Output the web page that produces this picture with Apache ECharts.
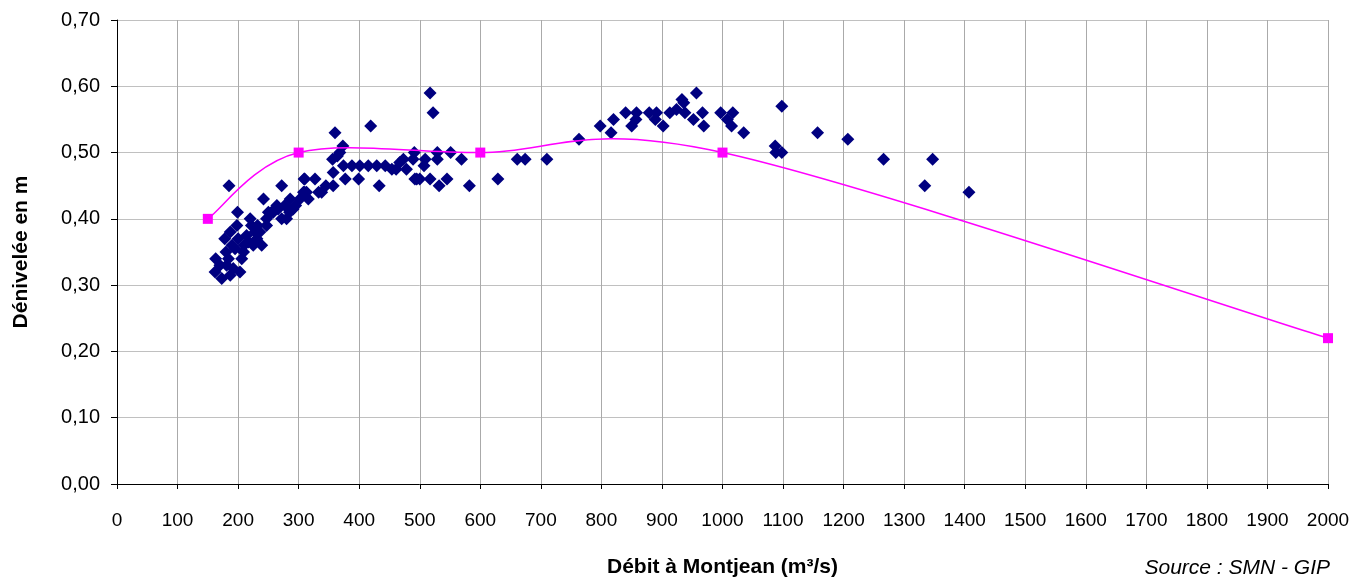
<!DOCTYPE html>
<html>
<head>
<meta charset="utf-8">
<script src="https://cdn.jsdelivr.net/npm/echarts@6/dist/echarts.min.js"></script>
<style>
  html, body { margin: 0; padding: 0; background: #fff; }
  #chart { width: 1354px; height: 580px; }
</style>
</head>
<body>
<div id="chart"></div>
<script>
// mesures : [débit m3/s, dénivelée m]
const mesures = [
  [163, 0.34], [162, 0.32], [173, 0.31], [170, 0.33], [181, 0.33], [178, 0.37], [184, 0.34],
  [187, 0.38], [187, 0.315], [192, 0.325], [195, 0.355], [185, 0.45], [199, 0.41], [198, 0.39],
  [203, 0.32], [206, 0.34], [209, 0.35], [214, 0.375], [217, 0.365], [220, 0.40], [222, 0.39],
  [225, 0.36], [231, 0.37], [236, 0.38], [239, 0.36], [242, 0.43], [247, 0.39], [247, 0.40],
  [255, 0.41], [264, 0.42], [266, 0.415], [272, 0.45], [272, 0.40], [277, 0.42], [280, 0.40],
  [286, 0.43], [291, 0.415], [302, 0.43], [309, 0.46], [310, 0.44], [313, 0.44], [316, 0.43],
  [308, 0.44], [327, 0.46], [333, 0.44], [338, 0.44], [310, 0.46], [180, 0.35], [190, 0.36],
  [200, 0.37], [210, 0.36], [228, 0.38], [232, 0.39], [250, 0.41], [258, 0.41], [285, 0.41],
  [295, 0.42], [345, 0.45],
  [356, 0.49], [357, 0.47], [357, 0.45], [360, 0.53], [364, 0.495], [368, 0.50], [373, 0.51],
  [374, 0.48], [377, 0.46], [388, 0.48], [399, 0.46], [401, 0.48], [415, 0.48], [419, 0.54],
  [429, 0.48], [433, 0.45], [443, 0.48], [454, 0.475], [461, 0.475], [467, 0.485], [473, 0.49],
  [478, 0.475], [491, 0.50], [489, 0.49], [492, 0.46], [495, 0.46], [500, 0.46], [507, 0.48],
  [509, 0.49], [517, 0.59], [517, 0.46], [522, 0.56], [529, 0.50], [529, 0.49], [532, 0.45],
  [545, 0.46], [551, 0.50], [569, 0.49], [582, 0.45], [629, 0.46], [661, 0.49], [674, 0.49],
  [710, 0.49],
  [763, 0.52], [798, 0.54], [816, 0.53], [820, 0.55], [840, 0.56], [850, 0.54], [857, 0.55],
  [858, 0.56], [879, 0.56], [889, 0.55], [891, 0.56], [902, 0.54], [913, 0.56], [924, 0.565],
  [933, 0.58], [936, 0.575], [938, 0.56], [952, 0.55], [957, 0.59], [967, 0.56], [969, 0.54],
  [997, 0.56], [1008, 0.55], [1015, 0.54], [1017, 0.56], [1035, 0.53], [1087, 0.51], [1088, 0.50],
  [1098, 0.57], [1098, 0.50], [1157, 0.53], [1207, 0.52], [1266, 0.49], [1334, 0.45], [1347, 0.49],
  [1407, 0.44]
];

// courbe de référence
const courbeDebit = [150, 300, 600, 1000, 2000];
const courbeDeniv = [0.40, 0.50, 0.50, 0.50, 0.22];

const fmtY = v => v.toFixed(2).replace('.', ',');

// lissage façon tableur (Catmull-Rom -> Bézier), calculé en pixels
function renderCourbe(params, api) {
  const pts = courbeDebit.map((d, i) => api.coord([d, courbeDeniv[i]]));
  const n = pts.length;
  const children = [];
  for (let i = 0; i < n - 1; i++) {
    const p0 = pts[Math.max(i - 1, 0)];
    const p1 = pts[i];
    const p2 = pts[i + 1];
    const p3 = pts[Math.min(i + 2, n - 1)];
    children.push({
      type: 'bezierCurve',
      shape: {
        x1: p1[0], y1: p1[1],
        cpx1: p1[0] + (p2[0] - p0[0]) / 6, cpy1: p1[1] + (p2[1] - p0[1]) / 6,
        cpx2: p2[0] - (p3[0] - p1[0]) / 6, cpy2: p2[1] - (p3[1] - p1[1]) / 6,
        x2: p2[0], y2: p2[1]
      },
      style: { stroke: '#ff00ff', lineWidth: 1.5, fill: null }
    });
  }
  return { type: 'group', children: children };
}

const chart = echarts.init(document.getElementById('chart'));

chart.setOption({
  animation: false,
  textStyle: { fontFamily: 'Liberation Sans, Arial, sans-serif' },
  grid: { left: 117, right: 26, top: 20, bottom: 96, containLabel: false, outerBoundsMode: 'none' },
  xAxis: {
    type: 'value',
    min: 0, max: 2000, interval: 100,
    name: 'Débit à Montjean (m³/s)',
    nameLocation: 'middle',
    nameGap: 73,
    nameTextStyle: { fontSize: 21, fontWeight: 'bold', color: '#000' },
    axisLine: { lineStyle: { color: '#000', width: 1 } },
    axisTick: { show: true, length: 5, lineStyle: { color: '#000' } },
    axisLabel: { fontSize: 19, color: '#000', margin: 27, formatter: v => String(v) },
    splitLine: { show: true, lineStyle: { color: '#aaaaaa', width: 1 } }
  },
  yAxis: {
    type: 'value',
    min: 0, max: 0.7, interval: 0.1,
    name: 'Dénivelée en m',
    nameLocation: 'middle',
    nameGap: 85,
    nameRotate: 90,
    nameTextStyle: { fontSize: 21, fontWeight: 'bold', color: '#000' },
    axisLine: { show: true, lineStyle: { color: '#000', width: 1 } },
    axisTick: { show: true, length: 6, lineStyle: { color: '#000' } },
    axisLabel: { fontSize: 20, color: '#000', margin: 17, formatter: fmtY },
    splitLine: { show: true, lineStyle: { color: '#c0c0c0', width: 1 } }
  },
  graphic: [{
    type: 'text',
    right: 24,
    bottom: 1,
    style: {
      text: 'Source : SMN - GIP',
      font: 'italic 21px "Liberation Sans Narrow", "Liberation Sans", Arial, sans-serif',
      fill: '#000'
    }
  }],
  series: [
    {
      type: 'scatter',
      data: mesures,
      symbol: 'diamond',
      symbolSize: 13,
      itemStyle: { color: '#000080', opacity: 1 },
      z: 2
    },
    {
      type: 'custom',
      data: [0],
      renderItem: renderCourbe,
      silent: true,
      z: 3
    },
    {
      type: 'scatter',
      data: courbeDebit.map((d, i) => [d, courbeDeniv[i]]),
      symbol: 'rect',
      symbolSize: 10,
      itemStyle: { color: '#ff00ff', opacity: 1 },
      z: 4
    }
  ]
});
</script>
</body>
</html>
